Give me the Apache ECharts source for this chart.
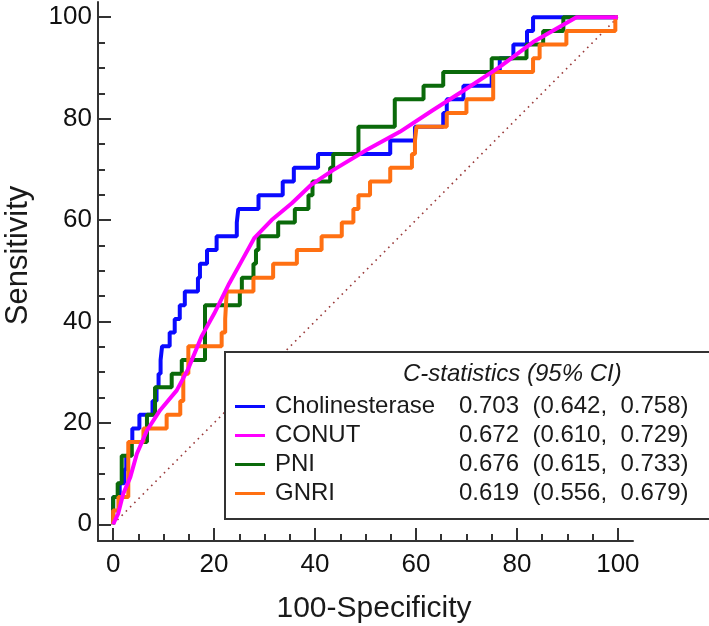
<!DOCTYPE html>
<html><head><meta charset="utf-8">
<script src="https://cdn.jsdelivr.net/npm/echarts@6/dist/echarts.min.js"></script>
<style>html,body{margin:0;padding:0;background:#fff}#c{width:709px;height:626px}</style>
</head><body><div id="c"></div>
<script>
// ----- data -----
const seriesNames = ['Cholinesterase', 'CONUT', 'PNI', 'GNRI'];
const auc    = [0.703, 0.672, 0.676, 0.619];
const ciLow  = [0.642, 0.610, 0.615, 0.556];
const ciHigh = [0.758, 0.729, 0.733, 0.679];

const majorTicks = [0, 20, 40, 60, 80, 100];
const minorTicks = [5, 10, 15, 25, 30, 35, 45, 50, 55, 65, 70, 75, 85, 90, 95];

// step curves: x where sensitivity jumps, and the new sensitivity level
const cholJumpX = [0,1.3,2.2,2.6,3.2,3.8,5.2,7.8,8.6,9.0,9.4,9.7,11.2,12.2,13.2,14.2,16.8,17.2,18.6,20.5,24.5,24.8,28.8,33.6,35.8,40.6,54.9,59.8,65.4,66.1,69.4,75.0,76.6,79.3,82.0,83.2];
const cholJumpY = [5.4,8.1,10.8,13.5,16.2,18.9,21.6,24.3,27.0,29.7,32.4,35.1,37.8,40.5,43.2,45.9,48.6,51.4,54.1,56.8,59.5,62.2,64.9,67.6,70.3,73.0,75.7,78.4,81.1,83.8,86.5,89.2,91.9,94.6,97.3,100];

const pniJumpX = [0,0.9,1.7,3.7,6.7,8.3,11.6,13.6,18.2,25.1,25.5,27.8,28.3,28.8,32.7,36.0,38.7,39.5,43.0,43.6,48.6,55.8,61.5,65.4,75.0,81.9,85.2,89.2];
const pniJumpY = [5.4,8.1,13.5,16.2,21.6,27.0,29.7,32.4,43.2,45.9,48.6,51.4,54.1,56.8,59.5,62.2,64.9,67.6,70.3,73.0,78.4,83.8,86.5,89.2,91.9,94.6,97.3,100];

const gnriJumpX = [0,1.05,3.0,6.0,10.6,13.3,13.9,14.9,21.5,22.2,22.5,27.8,31.7,36.4,41.3,45.3,47.6,48.6,50.9,54.9,59.2,59.8,60.1,66.1,70.0,75.3,83.2,84.5,89.8,99.5];
const gnriJumpY = [2.7,5.4,16.2,18.9,21.6,24.3,29.7,35.1,37.8,40.5,45.9,48.6,51.4,54.1,56.8,59.5,62.2,64.9,67.6,70.3,73.0,75.7,78.4,81.1,83.8,89.2,91.9,94.6,97.3,100];

// CONUT: fine-grained curve
const conutX = [0,1,2,3.4,4.7,6.7,9.3,12.6,14.8,17.5,20,23,25.5,28,31.4,35.4,39.3,43.5,50.2,56.8,63.4,70,76.6,83.2,91.8,100];
const conutY = [0,2.1,6,9.3,13.9,18.5,22.5,26.4,30.5,37,41.5,47.5,52,56.5,60,63.3,67,69.8,73.8,77.4,81.7,85.9,90.2,95.1,100,100];

const refX = [0, 100];
const refY = [0, 100];

// ----- build -----
function stairs(jx, jy) {
  const pts = [[0, 0]];
  let prev = 0;
  for (let i = 0; i < jx.length; i++) {
    pts.push([jx[i], prev]);
    pts.push([jx[i], jy[i]]);
    prev = jy[i];
  }
  pts.push([100, prev]);
  return pts;
}
function zip(xs, ys) { return xs.map((x, i) => [x, ys[i]]); }

const FONT = 'Liberation Sans, Arial, sans-serif';
const AX = '#333';
const colors = { Cholinesterase: '#0a0aff', CONUT: '#ff00ff', PNI: '#0a6a0a', GNRI: '#ff7012' };

function lineSeries(name, data) {
  return {
    name, type: 'line', data, symbol: 'none', showSymbol: false,
    lineStyle: { width: 4, color: colors[name] }, itemStyle: { color: colors[name] },
    emphasis: { disabled: true }, silent: true
  };
}

const fmt = v => v.toFixed(3);
const statText = {};
seriesNames.forEach((n, i) => {
  statText[n] = fmt(auc[i]) + '  (' + fmt(ciLow[i]) + ',  ' + fmt(ciHigh[i]) + ')';
});

function minorAxis(min, max, pos) {
  return {
    type: 'value', min, max, position: pos,
    axisLine: { show: false, onZero: false },
    axisTick: { show: true, inside: true, length: 7, customValues: minorTicks, lineStyle: { color: AX, width: 2 } },
    axisLabel: { show: false }, splitLine: { show: false }
  };
}

const chart = echarts.init(document.getElementById('c'), null, { renderer: 'canvas' });
chart.setOption({
  animation: false,
  backgroundColor: '#fff',
  grid: { left: 98, right: 76, top: 2, bottom: 85, outerBoundsMode: 'none' },
  title: {
    text: 'C-statistics (95% CI)', left: 403, top: 362, padding: 0, z: 21,
    textStyle: { fontStyle: 'italic', fontWeight: 'normal', fontSize: 24, color: '#1a1a1a', fontFamily: FONT }
  },
  legend: {
    data: seriesNames, orient: 'vertical', left: 225, top: 352,
    padding: [40, 22, 11, 10], itemGap: 0, itemWidth: 30, itemHeight: 3, icon: 'rect',
    borderColor: '#333', borderWidth: 2, borderRadius: 0, backgroundColor: '#fff', z: 20,
    selectedMode: false,
    textStyle: {
      fontSize: 24, color: '#1a1a1a', fontFamily: FONT, lineHeight: 29,
      rich: {
        n: { width: 184, padding: [0, 0, 0, 5], fontSize: 24, fontFamily: FONT, color: '#1a1a1a', lineHeight: 29 },
        v: { fontSize: 24, fontFamily: FONT, color: '#1a1a1a', lineHeight: 29 }
      }
    },
    formatter: name => '{n|' + name + '}{v|' + statText[name] + '}'
  },
  xAxis: [
    {
      type: 'value', min: -3, max: 103, position: 'bottom',
      axisLine: { show: true, onZero: false, lineStyle: { color: AX, width: 2 } },
      axisTick: { show: true, inside: true, length: 13, customValues: majorTicks, lineStyle: { color: AX, width: 2 } },
      axisLabel: { customValues: majorTicks, fontSize: 26, color: '#111', margin: 11, fontFamily: FONT },
      splitLine: { show: false },
      name: '100-Specificity', nameLocation: 'middle', nameGap: 53,
      nameTextStyle: { fontSize: 30, color: '#1a1a1a', fontFamily: FONT, padding: [0, 0, 0, 17] }
    },
    minorAxis(-3, 103, 'bottom')
  ],
  yAxis: [
    {
      type: 'value', min: -3.3, max: 103, position: 'left',
      axisLine: { show: true, onZero: false, lineStyle: { color: AX, width: 2 } },
      axisTick: { show: true, inside: true, length: 13, customValues: majorTicks, lineStyle: { color: AX, width: 2 } },
      axisLabel: { customValues: majorTicks, fontSize: 26, color: '#111', margin: 6, fontFamily: FONT },
      splitLine: { show: false },
      name: 'Sensitivity', nameLocation: 'middle', nameGap: 64,
      nameTextStyle: { fontSize: 31, color: '#1a1a1a', fontFamily: FONT, padding: [0, 0, 0, 32] }
    },
    minorAxis(-3.3, 103, 'left')
  ],
  series: [
    {
      name: 'reference', type: 'line', data: zip(refX, refY), symbol: 'none', silent: true,
      lineStyle: { width: 1.6, color: '#9a3a3a', type: [1.6, 4.4] }, emphasis: { disabled: true }
    },
    lineSeries('Cholinesterase', stairs(cholJumpX, cholJumpY)),
    lineSeries('PNI', stairs(pniJumpX, pniJumpY)),
    lineSeries('GNRI', stairs(gnriJumpX, gnriJumpY)),
    lineSeries('CONUT', zip(conutX, conutY))
  ]
});
</script>
</body></html>
